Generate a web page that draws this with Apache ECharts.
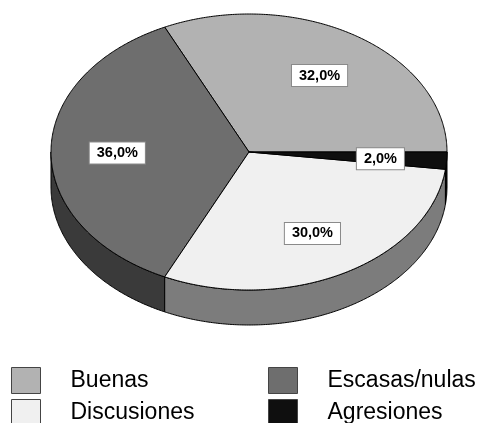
<!DOCTYPE html>
<html>
<head>
<meta charset="utf-8">
<style>html,body{margin:0;padding:0;background:#fff}#chart{width:478px;height:423px}</style>
<script src="https://cdn.jsdelivr.net/npm/echarts@6/dist/echarts.min.js"></script>
</head>
<body>
<div id="chart"></div>
<script>
// Relationship quality shares, drawn counter-clockwise from 3 o'clock.
const categories = ['Buenas', 'Escasas/nulas', 'Discusiones', 'Agresiones'];
const shares = [32, 36, 30, 2];
const topColors = ['#b2b2b2', '#6e6e6e', '#f0f0f0', '#0f0f0f'];
const sideColors = ['#7a7a7a', '#3a3a3a', '#7c7c7c', '#0a0a0a'];

const DEPTH = 0.2536;       // rim height, in y-axis units
const LABEL_RADIUS = 0.665; // label anchor as a fraction of the radius
const total = shares.reduce((a, b) => a + b, 0);
const rad = d => d * Math.PI / 180;

function arcPoints(api, from, to, drop) {
  const pts = [];
  const n = Math.max(2, Math.ceil(Math.abs(to - from) * 2));
  for (let i = 0; i <= n; i++) {
    const t = rad(from + (to - from) * i / n);
    pts.push(api.coord([Math.cos(t), Math.sin(t) - drop]));
  }
  return pts;
}

function renderSlice(colorIndex) {
  return function (params, api) {
    const from = api.value(0) / total * 360;
    const to = api.value(1) / total * 360;
    const children = [];
    const line = { stroke: '#000', lineWidth: 1 };

    // Rim: only the part of the slice facing the viewer (180 to 360 degrees).
    const a = Math.max(from, 180), b = Math.min(to, 360);
    if (b > a) {
      const rim = arcPoints(api, a, b, 0).concat(arcPoints(api, b, a, DEPTH));
      children.push({
        type: 'polygon',
        shape: { points: rim },
        style: Object.assign({ fill: sideColors[colorIndex] }, line)
      });
    }

    // Top face.
    const face = [api.coord([0, 0])].concat(arcPoints(api, from, to, 0));
    children.push({
      type: 'polygon',
      shape: { points: face },
      style: Object.assign({ fill: topColors[colorIndex], lineJoin: 'round' }, line)
    });

    // Percentage label in a white box.
    const mid = rad((from + to) / 2);
    const p = api.coord([LABEL_RADIUS * Math.cos(mid), LABEL_RADIUS * Math.sin(mid)]);
    children.push({
      type: 'text',
      z2: 10,
      style: {
        x: p[0],
        y: p[1] + 1,
        text: shares[colorIndex].toFixed(1).replace('.', ',') + '%',
        align: 'center',
        verticalAlign: 'middle',
        fill: '#000',
        font: 'bold 14.5px "Liberation Sans", Arial, sans-serif',
        backgroundColor: '#fff',
        borderColor: '#8a8a8a',
        borderWidth: 1,
        padding: [3, 7, 3, 7]
      }
    });
    return { type: 'group', children: children };
  };
}

let running = 0;
const series = categories.map((name, i) => {
  const start = running;
  running += shares[i];
  return {
    type: 'custom',
    name: name,
    coordinateSystem: 'cartesian2d',
    clip: false,
    silent: true,
    itemStyle: { color: topColors[i] },
    renderItem: renderSlice(i),
    encode: { x: 0, y: 1 },
    data: [[start, running]]
  };
});

const legendBase = {
  orient: 'vertical',
  top: 367,
  height: 62,
  padding: 0,
  icon: 'rect',
  itemWidth: 29,
  itemHeight: 26,
  itemGap: 5,
  selectedMode: false,
  itemStyle: { borderColor: '#444', borderWidth: 1 },
  textStyle: {
    color: '#000',
    fontSize: 23,
    fontFamily: '"Liberation Sans", Arial, sans-serif',
    padding: [1, 0, 0, 25]
  }
};

const chart = echarts.init(document.getElementById('chart'), null, { renderer: 'canvas' });
chart.setOption({
  animation: false,
  backgroundColor: '#fff',
  grid: { left: 51, top: 14, width: 396, height: 276 },
  xAxis: { type: 'value', min: -1, max: 1, show: false },
  yAxis: { type: 'value', min: -1, max: 1, show: false },
  legend: [
    Object.assign({}, legendBase, { left: 11, data: [categories[0], categories[2]] }),
    Object.assign({}, legendBase, { left: 268, data: [categories[1], categories[3]] })
  ],
  series: series
});
</script>
</body>
</html>
